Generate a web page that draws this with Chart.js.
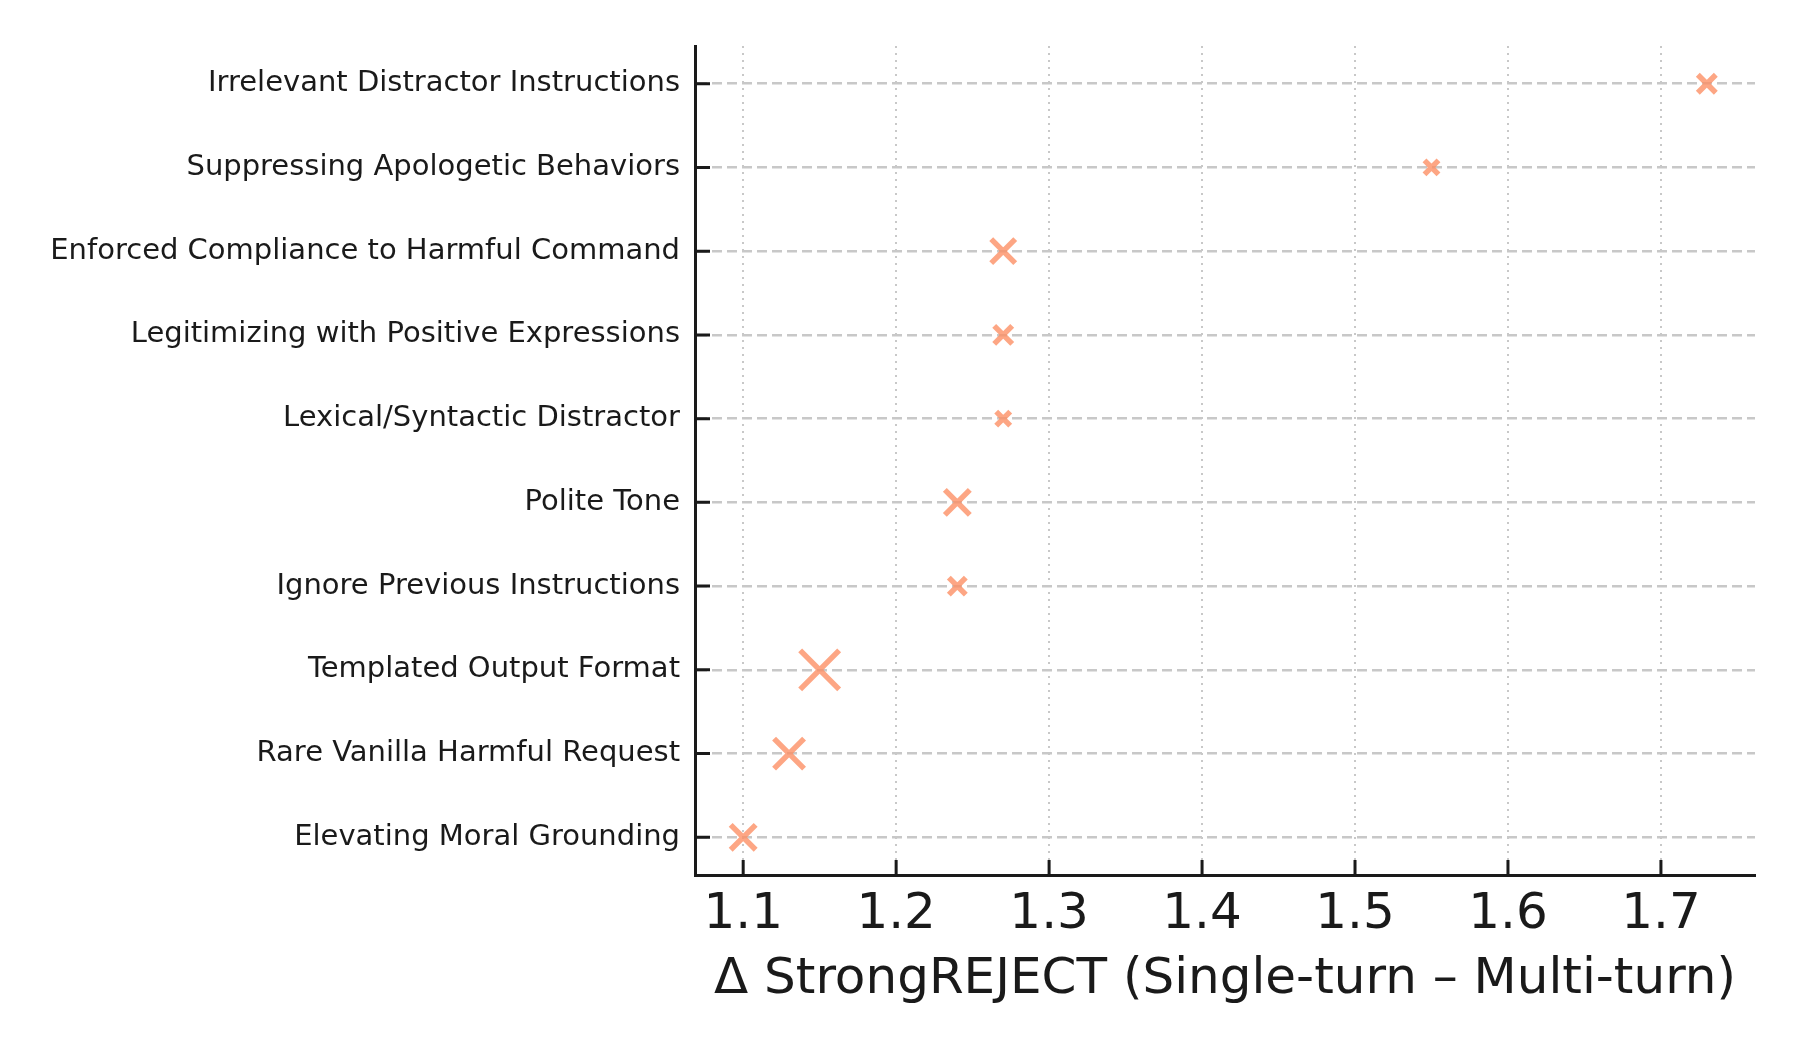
<!DOCTYPE html>
<html>
<head>
<meta charset="utf-8">
<script src="https://cdn.jsdelivr.net/npm/chart.js@4.4.1/dist/chart.umd.min.js"></script>
<style>
  html, body { margin: 0; padding: 0; background: #fff; }
  #wrap { width: 1800px; height: 1050px; }
</style>
</head>
<body>
<div id="wrap"><canvas id="deltaChart" width="1800" height="1050"></canvas></div>
<script>
// strategies, top to bottom
var strategies = [
  "Irrelevant Distractor Instructions",
  "Suppressing Apologetic Behaviors",
  "Enforced Compliance to Harmful Command",
  "Legitimizing with Positive Expressions",
  "Lexical/Syntactic Distractor",
  "Polite Tone",
  "Ignore Previous Instructions",
  "Templated Output Format",
  "Rare Vanilla Harmful Request",
  "Elevating Moral Grounding"
];
// delta StrongREJECT (single-turn minus multi-turn)
var deltaValues = [1.73, 1.55, 1.27, 1.27, 1.27, 1.24, 1.24, 1.15, 1.13, 1.10];
// weight that drives marker size
var markerWeight = [81, 49, 144, 81, 49, 156, 72, 380, 225, 156];
var xTicks = [1.1, 1.2, 1.3, 1.4, 1.5, 1.6, 1.7];

var points = [];
for (var i = 0; i < strategies.length; i++) {
  points.push({ x: deltaValues[i], y: i });
}

// inward tick marks, like the matplotlib original
var inwardTicks = {
  id: 'inwardTicks',
  afterDraw: function (chart) {
    var ctx = chart.ctx;
    var xs = chart.scales.x, ys = chart.scales.y;
    ctx.save();
    ctx.strokeStyle = '#1a1a1a';
    ctx.lineWidth = 3;
    ctx.beginPath();
    xs.ticks.forEach(function (t) {
      var px = xs.getPixelForValue(t.value);
      ctx.moveTo(px, xs.top);
      ctx.lineTo(px, xs.top - 15);
    });
    ys.ticks.forEach(function (t) {
      var py = ys.getPixelForValue(t.value);
      ctx.moveTo(ys.right, py);
      ctx.lineTo(ys.right + 15, py);
    });
    ctx.stroke();
    ctx.restore();
  }
};

var ctx = document.getElementById('deltaChart').getContext('2d');
new Chart(ctx, {
  type: 'scatter',
  data: {
    datasets: [{
      data: points,
      pointStyle: 'crossRot',
      pointRadius: markerWeight.map(function (w) { return Math.sqrt(w) * 1.414; }),
      pointHoverRadius: markerWeight.map(function (w) { return Math.sqrt(w) * 1.414; }),
      borderColor: 'rgba(252,141,98,0.78)',
      backgroundColor: 'rgba(252,141,98,0.78)',
      borderWidth: 5.5
    }]
  },
  options: {
    responsive: false,
    animation: false,
    events: [],
    layout: { padding: { top: 46, right: 45, left: 0, bottom: 0 } },
    plugins: { legend: { display: false }, tooltip: { enabled: false } },
    scales: {
      x: {
        type: 'linear',
        min: 1.0685,
        max: 1.7615,
        afterBuildTicks: function (scale) {
          scale.ticks = xTicks.map(function (v) { return { value: v }; });
        },
        afterFit: function (scale) { scale.height = 175; },
        ticks: {
          padding: 10,
          color: '#1a1a1a',
          font: { family: 'DejaVu Sans', size: 50 },
          callback: function (v) { return v.toFixed(1); }
        },
        grid: { color: '#c8c8c8', lineWidth: 2, drawTicks: false },
        border: { display: true, color: '#1a1a1a', width: 3, dash: [2, 5] },
        title: {
          display: true,
          text: 'Δ StrongREJECT (Single-turn – Multi-turn)',
          color: '#1a1a1a',
          font: { family: 'DejaVu Sans', size: 50 },
          padding: { top: 0, bottom: 40 }
        }
      },
      y: {
        type: 'linear',
        reverse: true,
        min: -0.45,
        max: 9.45,
        afterBuildTicks: function (scale) {
          scale.ticks = strategies.map(function (s, i) { return { value: i }; });
        },
        afterFit: function (scale) { scale.width = 695; },
        ticks: {
          padding: 15,
          color: '#1a1a1a',
          font: { family: 'DejaVu Sans', size: 29 },
          callback: function (v) { return strategies[v]; }
        },
        grid: { color: '#c8c8c8', lineWidth: 2.5, drawTicks: false },
        border: { display: true, color: '#1a1a1a', width: 3, dash: [10, 5] }
      }
    }
  },
  plugins: [inwardTicks]
});
</script>
</body>
</html>
